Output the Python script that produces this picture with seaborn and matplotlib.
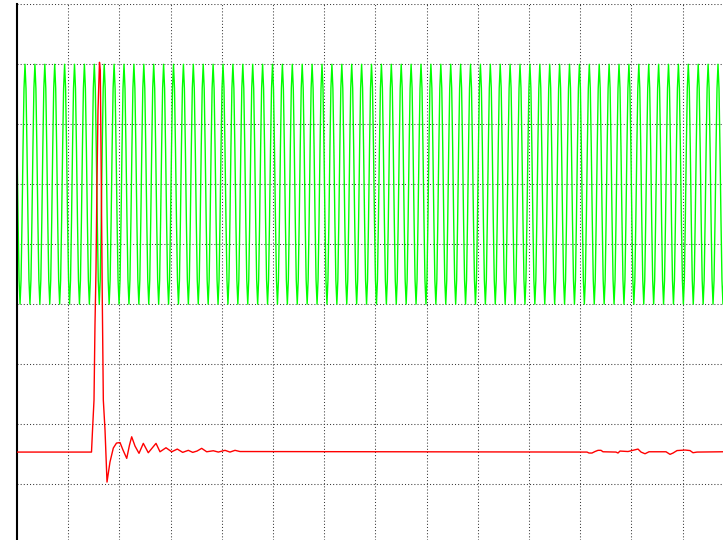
import numpy as np
import pandas as pd
import matplotlib
matplotlib.use("Agg")
import matplotlib.pyplot as plt
import seaborn as sns

# ---- data (time and amplitude in scope divisions) ----
# Channel 1 (green): carrier, sampled 10 times per cycle (one row = one cycle)
green_t0 = -0.0371
green_sample_dt = 0.019336
green_samples = [
    7, 6.6, 5.6, 4.4, 3.4, 3, 3.4, 4.4, 5.6, 6.6,
    7, 6.6, 5.6, 4.4, 3.4, 3, 3.4, 4.4, 5.6, 6.6,
    7, 6.6, 5.6, 4.4, 3.4, 3, 3.4, 4.4, 5.6, 6.6,
    7, 6.6, 5.6, 4.4, 3.4, 3, 3.4, 4.4, 5.6, 6.6,
    7, 6.6, 5.6, 4.4, 3.4, 3, 3.4, 4.4, 5.6, 6.6,
    7, 6.6, 5.6, 4.4, 3.4, 3, 3.4, 4.4, 5.6, 6.6,
    7, 6.6, 5.6, 4.4, 3.4, 3, 3.4, 4.4, 5.6, 6.6,
    7, 6.6, 5.6, 4.4, 3.4, 3, 3.4, 4.4, 5.6, 6.6,
    7, 6.6, 5.6, 4.4, 3.4, 3, 3.4, 4.4, 5.6, 6.6,
    7, 6.6, 5.6, 4.4, 3.4, 3, 3.4, 4.4, 5.6, 6.6,
    7, 6.6, 5.6, 4.4, 3.4, 3, 3.4, 4.4, 5.6, 6.6,
    7, 6.6, 5.6, 4.4, 3.4, 3, 3.4, 4.4, 5.6, 6.6,
    7, 6.6, 5.6, 4.4, 3.4, 3, 3.4, 4.4, 5.6, 6.6,
    7, 6.6, 5.6, 4.4, 3.4, 3, 3.4, 4.4, 5.6, 6.6,
    7, 6.6, 5.6, 4.4, 3.4, 3, 3.4, 4.4, 5.6, 6.6,
    7, 6.6, 5.6, 4.4, 3.4, 3, 3.4, 4.4, 5.6, 6.6,
    7, 6.6, 5.6, 4.4, 3.4, 3, 3.4, 4.4, 5.6, 6.6,
    7, 6.6, 5.6, 4.4, 3.4, 3, 3.4, 4.4, 5.6, 6.6,
    7, 6.6, 5.6, 4.4, 3.4, 3, 3.4, 4.4, 5.6, 6.6,
    7, 6.6, 5.6, 4.4, 3.4, 3, 3.4, 4.4, 5.6, 6.6,
    7, 6.6, 5.6, 4.4, 3.4, 3, 3.4, 4.4, 5.6, 6.6,
    7, 6.6, 5.6, 4.4, 3.4, 3, 3.4, 4.4, 5.6, 6.6,
    7, 6.6, 5.6, 4.4, 3.4, 3, 3.4, 4.4, 5.6, 6.6,
    7, 6.6, 5.6, 4.4, 3.4, 3, 3.4, 4.4, 5.6, 6.6,
    7, 6.6, 5.6, 4.4, 3.4, 3, 3.4, 4.4, 5.6, 6.6,
    7, 6.6, 5.6, 4.4, 3.4, 3, 3.4, 4.4, 5.6, 6.6,
    7, 6.6, 5.6, 4.4, 3.4, 3, 3.4, 4.4, 5.6, 6.6,
    7, 6.6, 5.6, 4.4, 3.4, 3, 3.4, 4.4, 5.6, 6.6,
    7, 6.6, 5.6, 4.4, 3.4, 3, 3.4, 4.4, 5.6, 6.6,
    7, 6.6, 5.6, 4.4, 3.4, 3, 3.4, 4.4, 5.6, 6.6,
    7, 6.6, 5.6, 4.4, 3.4, 3, 3.4, 4.4, 5.6, 6.6,
    7, 6.6, 5.6, 4.4, 3.4, 3, 3.4, 4.4, 5.6, 6.6,
    7, 6.6, 5.6, 4.4, 3.4, 3, 3.4, 4.4, 5.6, 6.6,
    7, 6.6, 5.6, 4.4, 3.4, 3, 3.4, 4.4, 5.6, 6.6,
    7, 6.6, 5.6, 4.4, 3.4, 3, 3.4, 4.4, 5.6, 6.6,
    7, 6.6, 5.6, 4.4, 3.4, 3, 3.4, 4.4, 5.6, 6.6,
    7, 6.6, 5.6, 4.4, 3.4, 3, 3.4, 4.4, 5.6, 6.6,
    7, 6.6, 5.6, 4.4, 3.4, 3, 3.4, 4.4, 5.6, 6.6,
    7, 6.6, 5.6, 4.4, 3.4, 3, 3.4, 4.4, 5.6, 6.6,
    7, 6.6, 5.6, 4.4, 3.4, 3, 3.4, 4.4, 5.6, 6.6,
    7, 6.6, 5.6, 4.4, 3.4, 3, 3.4, 4.4, 5.6, 6.6,
    7, 6.6, 5.6, 4.4, 3.4, 3, 3.4, 4.4, 5.6, 6.6,
    7, 6.6, 5.6, 4.4, 3.4, 3, 3.4, 4.4, 5.6, 6.6,
    7, 6.6, 5.6, 4.4, 3.4, 3, 3.4, 4.4, 5.6, 6.6,
    7, 6.6, 5.6, 4.4, 3.4, 3, 3.4, 4.4, 5.6, 6.6,
    7, 6.6, 5.6, 4.4, 3.4, 3, 3.4, 4.4, 5.6, 6.6,
    7, 6.6, 5.6, 4.4, 3.4, 3, 3.4, 4.4, 5.6, 6.6,
    7, 6.6, 5.6, 4.4, 3.4, 3, 3.4, 4.4, 5.6, 6.6,
    7, 6.6, 5.6, 4.4, 3.4, 3, 3.4, 4.4, 5.6, 6.6,
    7, 6.6, 5.6, 4.4, 3.4, 3, 3.4, 4.4, 5.6, 6.6,
    7, 6.6, 5.6, 4.4, 3.4, 3, 3.4, 4.4, 5.6, 6.6,
    7, 6.6, 5.6, 4.4, 3.4, 3, 3.4, 4.4, 5.6, 6.6,
    7, 6.6, 5.6, 4.4, 3.4, 3, 3.4, 4.4, 5.6, 6.6,
    7, 6.6, 5.6, 4.4, 3.4, 3, 3.4, 4.4, 5.6, 6.6,
    7, 6.6, 5.6, 4.4, 3.4, 3, 3.4, 4.4, 5.6, 6.6,
    7, 6.6, 5.6, 4.4, 3.4, 3, 3.4, 4.4, 5.6, 6.6,
    7, 6.6, 5.6, 4.4, 3.4, 3, 3.4, 4.4, 5.6, 6.6,
    7, 6.6, 5.6, 4.4, 3.4, 3, 3.4, 4.4, 5.6, 6.6,
    7, 6.6, 5.6, 4.4, 3.4, 3, 3.4, 4.4, 5.6, 6.6,
    7, 6.6, 5.6, 4.4, 3.4, 3, 3.4, 4.4, 5.6, 6.6,
    7, 6.6, 5.6, 4.4, 3.4, 3, 3.4, 4.4, 5.6, 6.6,
    7, 6.6, 5.6, 4.4, 3.4, 3, 3.4, 4.4, 5.6, 6.6,
    7, 6.6, 5.6, 4.4, 3.4, 3, 3.4, 4.4, 5.6, 6.6,
    7, 6.6, 5.6, 4.4, 3.4, 3, 3.4, 4.4, 5.6, 6.6,
    7, 6.6, 5.6, 4.4, 3.4, 3, 3.4, 4.4, 5.6, 6.6,
    7, 6.6, 5.6, 4.4, 3.4, 3, 3.4, 4.4, 5.6, 6.6,
    7, 6.6, 5.6, 4.4, 3.4, 3, 3.4, 4.4, 5.6, 6.6,
    7, 6.6, 5.6, 4.4, 3.4, 3, 3.4, 4.4, 5.6, 6.6,
    7, 6.6, 5.6, 4.4, 3.4, 3, 3.4, 4.4, 5.6, 6.6,
    7, 6.6, 5.6, 4.4, 3.4, 3, 3.4, 4.4, 5.6, 6.6,
    7, 6.6, 5.6, 4.4, 3.4, 3, 3.4, 4.4, 5.6, 6.6,
    7, 6.6, 5.6, 4.4, 3.4, 3, 3.4, 4.4, 5.6, 6.6,
    7,
]

# Channel 2 (red): transient
red_t = [0.0, 1.455, 1.475, 1.504, 1.523, 1.543, 1.5625, 1.582, 1.611, 1.627,
         1.646, 1.666, 1.686, 1.719, 1.758, 1.816, 1.881, 1.943, 2.012, 2.07,
         2.143, 2.197, 2.24, 2.305, 2.383, 2.467, 2.564, 2.715, 2.793, 2.91,
         3.021, 3.131, 3.236, 3.346, 3.432, 3.516, 3.607, 3.705, 3.834, 3.932,
         4.063, 4.16, 4.258, 4.355, 11.133, 11.172, 11.23, 11.289, 11.348, 11.406,
         11.445, 11.699, 11.738, 11.777, 11.934, 12.051, 12.129, 12.188, 12.266, 12.344,
         12.676, 12.754, 12.813, 12.891, 13.047, 13.145, 13.203, 13.281, 13.789]
red_v = [0.533, 0.533, 0.9, 1.4, 2.65, 3.567, 5.067, 6.233, 7.033, 6.9,
         5.067, 3.067, 1.4, 0.9, 0.033, 0.367, 0.6, 0.683, 0.692, 0.567,
         0.428, 0.65, 0.788, 0.633, 0.512, 0.678, 0.522, 0.678, 0.538, 0.605,
         0.538, 0.583, 0.528, 0.562, 0.528, 0.55, 0.595, 0.538, 0.555, 0.533,
         0.562, 0.533, 0.562, 0.542, 0.533, 0.517, 0.517, 0.542, 0.562, 0.562,
         0.538, 0.533, 0.517, 0.55, 0.542, 0.567, 0.583, 0.533, 0.505, 0.538,
         0.538, 0.495, 0.517, 0.558, 0.567, 0.558, 0.522, 0.533, 0.538]

green_t = green_t0 + green_sample_dt * np.arange(len(green_samples))
df_green = pd.DataFrame({"t": green_t, "v": green_samples})
df_red = pd.DataFrame({"t": red_t, "v": red_v})

# ---- figure ----
sns.set_style("white")
fig = plt.figure(figsize=(7.23, 5.40), dpi=100)
W, H = 723, 540
ax = fig.add_axes([17 / W, 0, 1 - 17 / W, (540 - 4) / H])

sns.lineplot(data=df_green, x="t", y="v", ax=ax, color="#00ff00", lw=1.0,
             sort=False, estimator=None, zorder=2)
sns.lineplot(data=df_red, x="t", y="v", ax=ax, color="#ff0000", lw=1.0,
             sort=False, estimator=None, zorder=3)

ax.set_xlim(0, 13.789)
ax.set_ylim(-0.9333, 8.005)
ax.set_xticks(np.arange(1, 14))
ax.set_yticks(np.arange(0, 9))
ax.grid(True, color="#3a3a3a", linestyle=(0, (1, 2)), linewidth=0.75)
ax.set_axisbelow(True)
ax.tick_params(left=False, bottom=False, labelleft=False, labelbottom=False)
ax.set_xlabel("")
ax.set_ylabel("")
for s in ["top", "right", "bottom"]:
    ax.spines[s].set_visible(False)
ax.spines["left"].set_color("black")
ax.spines["left"].set_linewidth(1.5)

fig.savefig("out.png", dpi=100)
